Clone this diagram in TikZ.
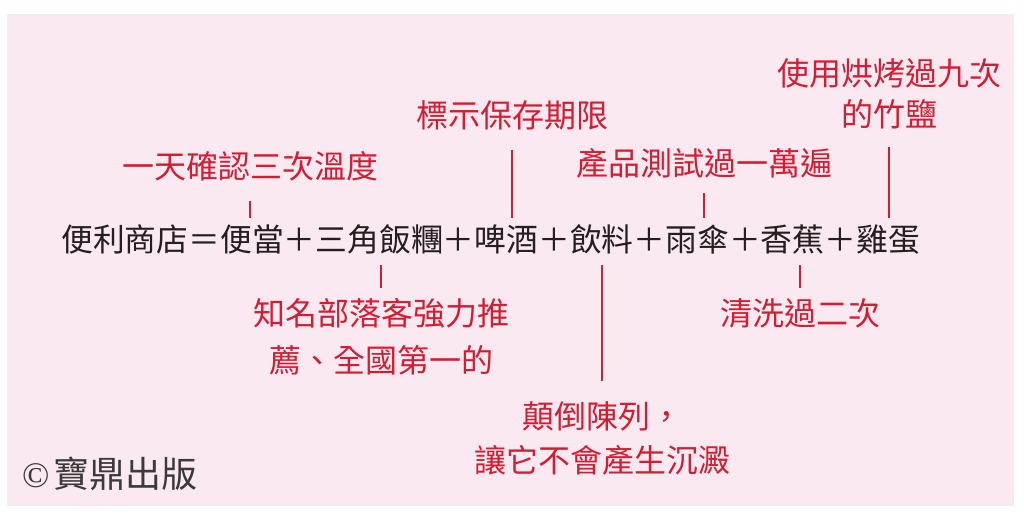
\documentclass[tikz,border=0pt]{standalone}
\usepackage{fontspec}
\newfontfamily\cjk{Noto Sans CJK TC}
\newfontfamily\serifc{Liberation Serif}
\definecolor{bgpink}{HTML}{FBE9F2}
\definecolor{tred}{HTML}{D31D32}
\definecolor{tblack}{HTML}{231F20}
\definecolor{cgray}{HTML}{3A3A3A}
\begin{document}
\begin{tikzpicture}[x=1pt,y=-1pt,
  mainline/.style={inner sep=0pt, text=tblack, font=\cjk\fontsize{31.8}{40}\selectfont},
  note/.style={inner sep=0pt, text=tred, align=center, font=\cjk\fontsize{32}{44}\selectfont},
  link/.style={draw=tred, line width=1.8pt}]
\useasboundingbox (0,0) rectangle (1024,523);
\fill[white] (0,0) rectangle (1024,523);
\fill[bgpink] (7,14) rectangle (1014,506);

\node[mainline, anchor=west] (main) at (61,240) {便利商店＝便當＋三角飯糰＋啤酒＋飲料＋雨傘＋香蕉＋雞蛋};

\node[note] (temp) at (250,166) {一天確認三次溫度};
\node[note] (expiry) at (512,115) {標示保存期限};
\node[note] (test) at (704,163) {產品測試過一萬遍};
\node[note, font=\cjk\fontsize{32}{41}\selectfont] (salt) at (889,94) {使用烘烤過九次\\的竹鹽};
\node[note, font=\cjk\fontsize{32}{47}\selectfont] (blog) at (381,337) {知名部落客強力推\\薦、全國第一的};
\node[note] (upside) at (602,438) {顛倒陳列，\\讓它不會產生沉澱};
\node[note] (wash) at (800,313) {清洗過二次};

\draw[link, shorten <=20pt, shorten >=7pt] (temp.south) -- (temp.south |- main.north);
\draw[link, shorten <=20pt, shorten >=7pt] (expiry.south) -- (expiry.south |- main.north);
\draw[link, shorten <=15pt, shorten >=7pt] (test.south) -- (test.south |- main.north);
\draw[link, shorten <=18pt, shorten >=7pt] (salt.south) -- (salt.south |- main.north);
\draw[link, shorten <=10pt, shorten >=10pt] (blog.north) -- (blog.north |- main.south);
\draw[link, shorten <=20pt, shorten >=10pt] (upside.north) -- (upside.north |- main.south);
\draw[link, shorten <=10pt, shorten >=10pt] (wash.north) -- (wash.north |- main.south);

\node[inner sep=0pt, anchor=west, text=cgray] (copy) at (22,474) {{\serifc\fontsize{36}{40}\selectfont ©}\hspace{4pt}{\cjk\fontsize{36}{40}\selectfont 寶鼎出版}};
\end{tikzpicture}
\end{document}
